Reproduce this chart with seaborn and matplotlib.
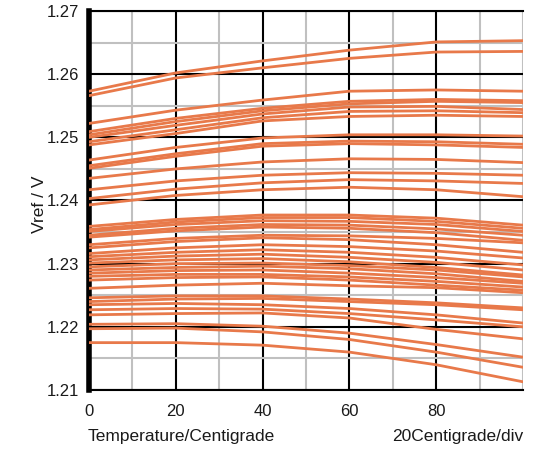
import matplotlib
matplotlib.use("Agg")
import matplotlib.pyplot as plt
from matplotlib.ticker import MultipleLocator
import seaborn as sns
import pandas as pd

temps = [0, 20, 40, 60, 80, 100]

upper_curves = [
    [1.2573, 1.2602, 1.2621, 1.2638, 1.2651, 1.2653],
    [1.2566, 1.2594, 1.2610, 1.2625, 1.2635, 1.2636],
    [1.2522, 1.2543, 1.2559, 1.2573, 1.2575, 1.2573],
    [1.2509, 1.2530, 1.2546, 1.2557, 1.2560, 1.2558],
    [1.2504, 1.2525, 1.2542, 1.2553, 1.2557, 1.2555],
    [1.2500, 1.2519, 1.2537, 1.2548, 1.2549, 1.2544],
    [1.2493, 1.2512, 1.2531, 1.2541, 1.2542, 1.2539],
    [1.2488, 1.2506, 1.2526, 1.2533, 1.2535, 1.2533],
    [1.2464, 1.2484, 1.2499, 1.2504, 1.2504, 1.2502],
    [1.2455, 1.2474, 1.2490, 1.2494, 1.2493, 1.2489],
    [1.2451, 1.2470, 1.2486, 1.2490, 1.2488, 1.2484],
    [1.2435, 1.2450, 1.2461, 1.2466, 1.2465, 1.2460],
    [1.2417, 1.2431, 1.2440, 1.2444, 1.2443, 1.2440],
    [1.2403, 1.2418, 1.2428, 1.2433, 1.2431, 1.2427],
    [1.2393, 1.2408, 1.2417, 1.2421, 1.2417, 1.2406],
]

lower_curves = [
    [1.2359, 1.2370, 1.2377, 1.2377, 1.2372, 1.2361],
    [1.2354, 1.2366, 1.2373, 1.2373, 1.2367, 1.2356],
    [1.2351, 1.2362, 1.2368, 1.2367, 1.2362, 1.2351],
    [1.2345, 1.2356, 1.2362, 1.2361, 1.2355, 1.2345],
    [1.2342, 1.2352, 1.2358, 1.2356, 1.2349, 1.2337],
    [1.2330, 1.2340, 1.2345, 1.2344, 1.2340, 1.2333],
    [1.2325, 1.2335, 1.2341, 1.2338, 1.2330, 1.2318],
    [1.2316, 1.2325, 1.2330, 1.2327, 1.2320, 1.2309],
    [1.2311, 1.2318, 1.2322, 1.2318, 1.2310, 1.2298],
    [1.2306, 1.2312, 1.2315, 1.2310, 1.2302, 1.2290],
    [1.2301, 1.2306, 1.2308, 1.2303, 1.2294, 1.2282],
    [1.2295, 1.2300, 1.2301, 1.2297, 1.2290, 1.2279],
    [1.2290, 1.2294, 1.2296, 1.2292, 1.2284, 1.2272],
    [1.2285, 1.2289, 1.2290, 1.2285, 1.2278, 1.2269],
    [1.2280, 1.2283, 1.2283, 1.2279, 1.2272, 1.2263],
    [1.2274, 1.2278, 1.2279, 1.2274, 1.2266, 1.2258],
    [1.2261, 1.2266, 1.2269, 1.2265, 1.2262, 1.2254],
    [1.2246, 1.2249, 1.2249, 1.2244, 1.2238, 1.2230],
    [1.2240, 1.2244, 1.2245, 1.2240, 1.2235, 1.2227],
    [1.2235, 1.2237, 1.2235, 1.2229, 1.2219, 1.2206],
    [1.2227, 1.2229, 1.2228, 1.2221, 1.2211, 1.2200],
    [1.2219, 1.2221, 1.2222, 1.2214, 1.2196, 1.2181],
    [1.2204, 1.2205, 1.2201, 1.2190, 1.2172, 1.2152],
    [1.2197, 1.2198, 1.2192, 1.2180, 1.2160, 1.2136],
    [1.2175, 1.2175, 1.2171, 1.2160, 1.2140, 1.2113],
]

x_ticks = [0, 20, 40, 60, 80]
y_ticks = [1.21, 1.22, 1.23, 1.24, 1.25, 1.26, 1.27]
y_tick_labels = ["1.21", "1.22", "1.23", "1.24", "1.25", "1.26", "1.27"]

rows = []
for i, curve in enumerate(upper_curves + lower_curves):
    for t, v in zip(temps, curve):
        rows.append({"temp": t, "vref": v, "unit": i})
df = pd.DataFrame(rows)

sns.set_theme(style="white")
plt.rcParams["font.family"] = ["Liberation Sans", "DejaVu Sans"]

fig = plt.figure(figsize=(5.4, 4.5), dpi=100)
ax = fig.add_axes([0.165, 0.1333, 0.8035, 0.8423])

line_color = "#E8794A"
sns.lineplot(data=df, x="temp", y="vref", units="unit", estimator=None,
             color=line_color, linewidth=2.0, ax=ax, zorder=3)

ax.set_xlim(0, 100)
ax.set_ylim(1.21, 1.27)

ax.xaxis.set_minor_locator(MultipleLocator(10))
ax.yaxis.set_minor_locator(MultipleLocator(0.005))
ax.set_xticks(x_ticks)
ax.set_yticks(y_ticks)
ax.set_yticklabels(y_tick_labels)
ax.grid(which="minor", color="#c0c0c0", linewidth=1.5, zorder=1)
ax.grid(which="major", color="black", linewidth=1.5, zorder=2)
ax.set_axisbelow(True)

ax.tick_params(which="both", length=0, labelsize=12, colors="#1a1a1a")
ax.tick_params(axis="y", pad=7)
ax.tick_params(axis="x", pad=10)

for s in ["top", "bottom"]:
    ax.spines[s].set_visible(True)
    ax.spines[s].set_color("black")
    ax.spines[s].set_linewidth(1.5)
ax.spines["right"].set_visible(False)
ax.spines["left"].set_color("black")
ax.spines["left"].set_linewidth(4)

ax.set_xlabel("")
ax.set_ylabel("")
fig.text(0.074, 0.545, "Vref / V", fontsize=12.5, color="#1a1a1a",
         ha="center", va="center", rotation=90)
fig.text(0.163, 0.031, "Temperature/Centigrade", fontsize=12.5, color="#1a1a1a",
         ha="left", va="center")
fig.text(0.9685, 0.031, "20Centigrade/div", fontsize=12.5, color="#1a1a1a",
         ha="right", va="center")

fig.savefig("out.png", dpi=100)
